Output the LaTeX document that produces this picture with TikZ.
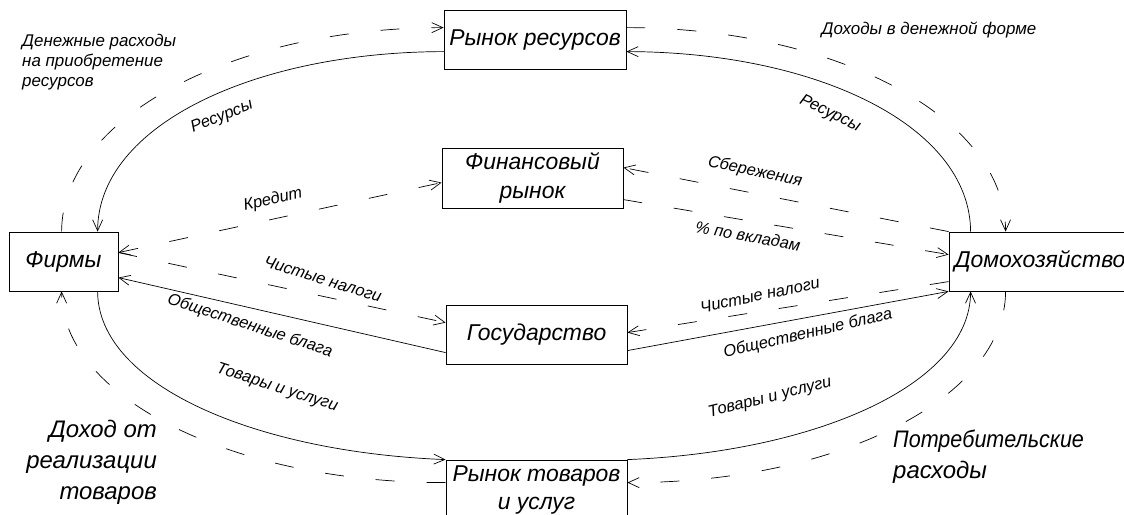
\documentclass[tikz,border=0pt]{standalone}
\usepackage{fontspec}
\setmainfont{Liberation Sans}
\usetikzlibrary{arrows.meta,calc}
\begin{document}
\begin{tikzpicture}[x=1bp,y=-1bp,
  box/.style={draw, line width=0.8bp, align=center, inner sep=0pt,
    font=\itshape\fontsize{23}{29}\selectfont},
  flow/.style={line width=0.7bp, -{Straight Barb[length=11bp,width=10bp]}},
  flowboth/.style={line width=0.7bp, {Straight Barb[length=11bp,width=10bp]}-{Straight Barb[length=11bp,width=10bp]}},
  money/.style={dash pattern=on 19bp off 32bp},
  lab/.style={font=\itshape\fontsize{16.5}{19}\selectfont, inner sep=1bp},
  toplab/.style={font=\itshape\fontsize{17}{20}\selectfont, inner sep=0pt},
  big/.style={font=\itshape\fontsize{24}{31}\selectfont, inner sep=0pt}]
\useasboundingbox (0,0) rectangle (1124,515);
\clip (0,0) rectangle (1124,515);
% boxes
\node[box, minimum width=182bp, minimum height=59bp] (rr) at (535,39.5) {Рынок ресурсов};
\node[box, minimum width=181bp, minimum height=60bp] (fin) at (532.5,178) {Финансовый\\рынок};
\node[box, minimum width=109bp, minimum height=59bp] (firm) at (63.5,261.5) {Фирмы};
\node[box, minimum width=182bp, minimum height=59bp] (dom) at (1040,261.5) {Домохозяйство};
\node[box, minimum width=181bp, minimum height=59bp] (gov) at (536.5,334.5) {Государство};
\node[box, minimum width=181bp, minimum height=60bp] (gm) at (536.5,490) {Рынок товаров\\и услуг};
% solid inner loop
\draw[flow] ($(rr.north west)+(0,42)$) .. controls (255,52) and (98,125) .. ($(firm.north west)+(89,0)$);
\draw[flow] ($(dom.north west)+(22,0)$) .. controls (970,125) and (815,52) .. ($(rr.north east)+(0,42)$);
\draw[flow] ($(firm.south west)+(89,0)$) .. controls (98,385) and (255,452) .. (gm.north west);
\draw[flow] (gm.north east) .. controls (815,452) and (970,385) .. ($(dom.south west)+(22,0)$);
% dashed outer loop
\draw[flow,money] ($(firm.north west)+(53,0)$) .. controls (62,118) and (232,28) .. ($(rr.north west)+(0,18)$);
\draw[flow,money] ($(rr.north east)+(0,18)$) .. controls (838,28) and (1005,118) .. ($(dom.north west)+(57,0)$);
\draw[flow,money] ($(dom.south west)+(57,0)$) .. controls (1005,398) and (838,483) .. ($(gm.north east)+(0,23)$);
\draw[flow,money] ($(gm.north west)+(0,23)$) .. controls (234,483) and (62,398) .. ($(firm.south west)+(53,0)$);
% financial market
\draw[flowboth,money] ($(firm.north east)+(0,21)$) -- ($(fin.north west)+(0,35)$);
\draw[flow,money] (dom.north west) -- ($(fin.north east)+(0,20)$);
\draw[flow,money] ($(fin.north east)+(0,52)$) -- ($(dom.north west)+(0,23)$);
% government
\draw[flow,money] ($(firm.north east)+(0,21)$) -- ($(gov.north west)+(0,18)$);
\draw[flow] ($(gov.north west)+(0,48)$) -- ($(firm.north east)+(0,46)$);
\draw[flow,money] ($(dom.north west)+(0,50)$) -- ($(gov.north east)+(0,28)$);
\draw[flow] ($(gov.north east)+(0,46)$) -- (dom.south west);
% connector labels
\node[lab, rotate=22] (lres1) at (222,117) {Ресурсы};
\node[lab, rotate=-26] (lres2) at (830,114) {Ресурсы};
\node[lab, rotate=13] (lkred) at (273,200) {Кредит};
\node[lab, rotate=-12] (lsav) at (755,172) {Сбережения};
\node[lab, rotate=-10] (lpct) at (748,236) {\% по вкладам};
\node[lab, rotate=-17] (ltax1) at (323,279) {Чистые налоги};
\node[lab, rotate=-18] (lpub1) at (250,326) {Общественные блага};
\node[lab, rotate=12] (ltax2) at (760,295) {Чистые налоги};
\node[lab, rotate=13] (lpub2) at (808,334) {Общественные блага};
\node[lab, rotate=-18] (lgood1) at (277,388) {Товары и услуги};
\node[lab, rotate=14] (lgood2) at (770,398) {Товары и услуги};
% free texts
\node[toplab, align=left, anchor=north west] (lspend) at (22,34) {Денежные расходы\\на приобретение\\ресурсов};
\node[toplab] (lrev) at (929,30) {Доходы в денежной форме};
\node[big, align=right, anchor=north east] (linc) at (157,420) {Доход от\\реализации\\товаров};
\node[big, align=left, anchor=north west] (lcons) at (893,430) {\scalebox{0.9}[1]{Потребительские}\\расходы};
\end{tikzpicture}
\end{document}
